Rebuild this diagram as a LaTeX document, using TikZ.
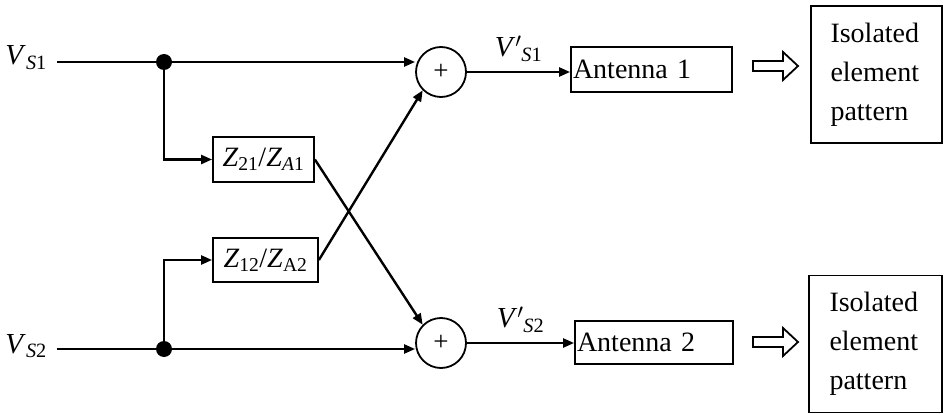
\documentclass[tikz,border=0pt]{standalone}
\usepackage{fontspec}
\setmainfont{Liberation Serif}
\usetikzlibrary{arrows.meta}
\begin{document}
\begin{tikzpicture}[x=1pt,y=-1pt,
  sig/.style={line width=2.4pt},
  arr/.style={sig,-{Triangle[length=11pt,width=9pt]}},
  blk/.style={draw,line width=1.8pt,rectangle,inner sep=0pt,font=\fontsize{28}{33}\selectfont},
  sumc/.style={draw,line width=1.8pt,circle,minimum size=50pt,inner sep=0pt,font=\fontsize{27}{30}\selectfont},
  lbl/.style={inner sep=0pt,font=\fontsize{29}{33}\selectfont},
  junc/.style={circle,fill=black,minimum size=16pt,inner sep=0pt},
  hollow/.style={draw,line width=1.8pt,line join=miter}]
\useasboundingbox (0,0) rectangle (944,414);
% input labels
\node[lbl,anchor=base east] (vs1) at (47,65) {\textit{V}\textsubscript{\textit{S}1}};
\node[lbl,anchor=base east] (vs2) at (47,353) {\textit{V}\textsubscript{\textit{S}2}};
\coordinate (in1) at (57,62);
\coordinate (in2) at (57,349);
% junctions
\node[junc] (d1) at (164,62) {};
\node[junc] (d2) at (164,349) {};
% coupling blocks
\node[blk,minimum width=101pt,minimum height=45pt] (z21) at (263.5,159.5) {\textit{Z}\textsubscript{21}/\textit{Z}\textsubscript{\textit{A}1}};
\node[blk,minimum width=105pt,minimum height=44pt] (z12) at (265.5,260) {\textit{Z}\textsubscript{12}/\textit{Z}\textsubscript{A2}};
% summers
\node[sumc] (c1) at (441,72) {+};
\node[sumc] (c2) at (441,343) {+};
% antennas
\node[blk,minimum width=161pt,minimum height=45pt,text width=157pt,align=left] (a1) at (651.5,69.5) {Antenna 1};
\node[blk,minimum width=158pt,minimum height=43pt,text width=154pt,align=left] (a2) at (654,342.5) {Antenna 2};
% isolated pattern boxes
\node[blk,minimum width=131pt,minimum height=137pt,text width=92pt,align=left,font=\fontsize{28}{39}\selectfont] (p1) at (876.5,74.5) {Isolated\\element\\pattern};
\node[blk,minimum width=133pt,minimum height=137pt,text width=92pt,align=left,font=\fontsize{28}{39}\selectfont] (p2) at (875.5,344) {Isolated\\element\\pattern};
% connectors
\draw[sig] (in1) -- (d1);
\draw[arr] (d1) -- (d1 -| c1.west);
\draw[arr] (d1) |- (z21.west);
\draw[sig] (in2) -- (d2);
\draw[arr] (d2) -- (d2 -| c2.west);
\draw[arr] (d2) |- (z12.west);
\draw[arr] (z21.east) -- (c2.135);
\draw[arr] (z12.east) -- (c1.225);
\draw[arr] (c1.east) -- (c1.east -| a1.west) node[lbl,midway,above=9pt] {\textit{V}$'$\textsubscript{\textit{S}1}};
\draw[arr] (c2.east) -- (c2.east -| a2.west) node[lbl,midway,above=9pt] {\textit{V}$'$\textsubscript{\textit{S}2}};
% hollow arrows
\coordinate (h1) at (753,66);
\coordinate (h2) at (753,342);
\draw[hollow] (h1) ++(0,-5) -- ++(30,0) -- ++(0,-9) -- ++(15,14) -- ++(-15,14) -- ++(0,-9) -- ++(-30,0) -- cycle;
\draw[hollow] (h2) ++(0,-5) -- ++(30,0) -- ++(0,-9) -- ++(15,14) -- ++(-15,14) -- ++(0,-9) -- ++(-30,0) -- cycle;
\end{tikzpicture}
\end{document}
